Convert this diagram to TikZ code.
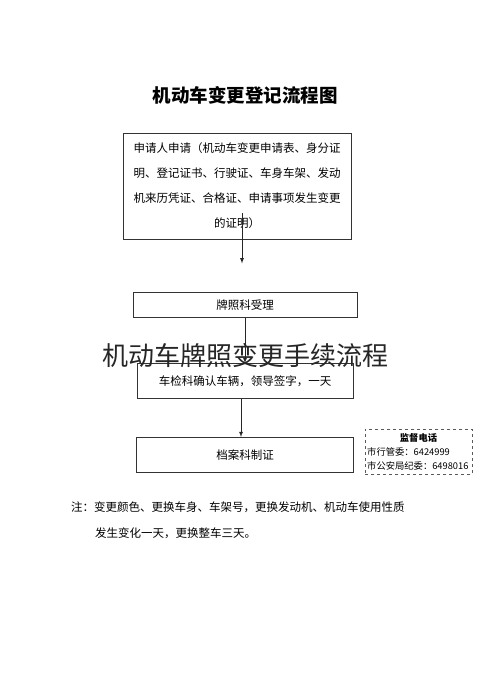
\documentclass[tikz,border=0pt]{standalone}
\usepackage{fontspec}
\setmainfont{Noto Sans CJK SC}
\usetikzlibrary{positioning}

\begin{document}
\begin{tikzpicture}[
    x=1pt, y=-1pt,
    node distance=45pt,
    stepbox/.style={draw=black!80, line width=0.8pt, inner sep=0pt, align=center,
      font=\fontsize{11.5}{25}\selectfont},
    phonebox/.style={draw=black!65, dashed, line width=0.7pt, inner sep=0pt,
      minimum width=107pt, minimum height=45pt},
    flow/.style={draw=black!85, line width=0.8pt, -latex}
    ]
    \useasboundingbox (0,0) rectangle (490,698);

    \node[font=\bfseries\fontsize{18.5}{20}\selectfont] (title) at (245,95) {机动车变更登记流程图};

    \node[stepbox, minimum width=228pt, minimum height=106pt] (apply) at (237,186)
      {申请人申请（机动车变更申请表、身分证\\明、登记证书、行驶证、车身车架、发动\\机来历凭证、合格证、申请事项发生变更\\的证明）};
    \node[stepbox, minimum width=224pt, minimum height=25pt, below=53pt of apply, xshift=8pt] (accept) {牌照科受理};
    \node[stepbox, minimum width=216pt, minimum height=35pt, below=of accept] (check) {车检科确认车辆，领导签字，一天};
    \node[stepbox, minimum width=217pt, minimum height=35pt, below=38pt of check] (archive) {档案科制证};

    \node[phonebox] (phone) at (418.5,451.5) {};
    \node[font=\bfseries\fontsize{9.3}{10}\selectfont] (phonetitle) at (418.5,438) {监督电话};
    \node[anchor=west, inner sep=0pt, font=\fontsize{9.3}{10}\selectfont] (phone1) at (367,452) {市行管委：6424999};
    \node[anchor=west, inner sep=0pt, font=\fontsize{9.3}{10}\selectfont] (phone2) at (367,465.5) {市公安局纪委：6498016};

    \node[anchor=west, inner sep=0pt, font=\fontsize{11.5}{12}\selectfont] (note1) at (71,507)
      {注：变更颜色、更换车身、车架号，更换发动机、机动车使用性质};
    \node[anchor=west, inner sep=0pt, font=\fontsize{11.5}{12}\selectfont] (note2) at (95,533)
      {发生变化一天，更换整车三天。};

    \path ([xshift=-3pt]accept.north |- apply.south) edge[flow, shorten <=-26pt, shorten >=29pt] ([xshift=-3pt]accept.north)
    (accept) edge[flow] (check)
    ([xshift=-4pt]check.south) edge[flow] ([xshift=-4pt]archive.north)
    ;

    \node[text=black!85, font=\fontsize{26}{28}\selectfont] (mark) at (245,356) {机动车牌照变更手续流程};
\end{tikzpicture}
\end{document}
